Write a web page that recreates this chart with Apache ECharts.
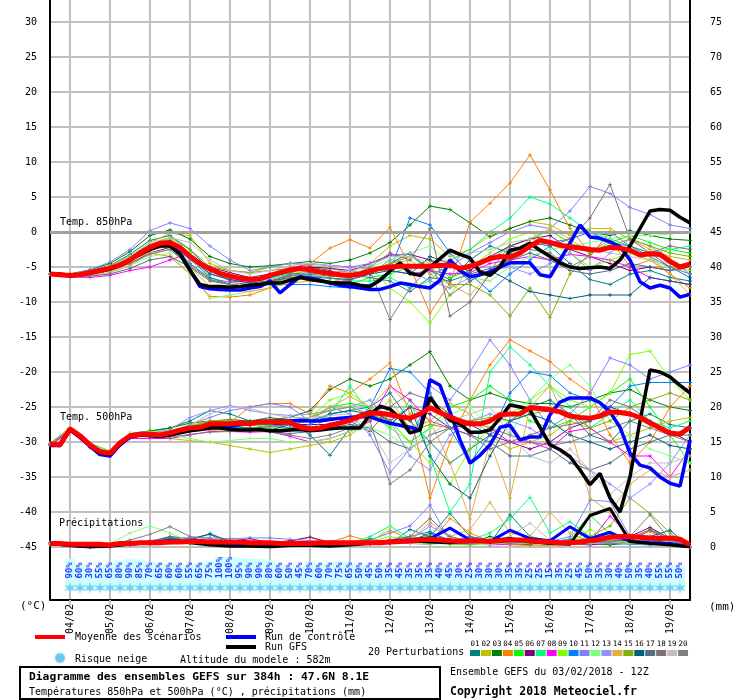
<!DOCTYPE html>
<html><head><meta charset="utf-8">
<script src="https://cdn.jsdelivr.net/npm/echarts@6.0.0/dist/echarts.min.js"></script>
<style>html,body{margin:0;padding:0;background:#fff}#chart{width:740px;height:700px}</style>
</head><body><div id="chart"></div>
<script>
// ---------------- DATA ----------------
const days = ['03/02','04/02','05/02','06/02','07/02','08/02','09/02','10/02','11/02','12/02','13/02','14/02','15/02','16/02','17/02','18/02','19/02'];
const runStartHour = 12, stepHours = 6, nSteps = 65;
const categories = Array.from({length: nSteps}, (_, i) => {
  const h = runStartHour + stepHours * i;
  return days[Math.floor(h / 24)] + ' ' + String(h % 24).padStart(2, '0') + 'Z';
});

const memberNames = ['01','02','03','04','05','06','07','08','09','10','11','12','13','14','15','16','17','18','19','20'];
const memberColors = ['#008080','#c0c000','#008000','#ff8000','#00ff00','#800080','#00ff80','#ff00ff','#80ff00','#0080ff',
                      '#8080ff','#80ff80','#9090ff','#e0b040','#80b000','#006080','#507080','#807070','#c0c0c0','#808080'];

const mean850 = [-6.0,-6.1,-6.2,-6.1,-5.8,-5.5,-5.2,-4.7,-4.0,-3.0,-2.2,-1.6,-1.5,-2.2,-3.5,-4.5,-5.3,-5.9,-6.3,-6.6,
  -6.8,-6.7,-6.2,-5.8,-5.4,-5.2,-5.4,-5.7,-5.9,-6.1,-6.2,-6.0,-5.6,-5.2,-5.0,-4.9,-4.9,-4.9,-4.9,-4.8,
  -4.7,-5.2,-4.9,-4.4,-3.8,-3.5,-3.6,-3.0,-2.0,-1.2,-1.5,-1.9,-2.1,-2.3,-2.5,-2.6,-2.2,-2.3,-2.6,-3.3,
  -3.1,-3.2,-4.2,-5.0,-4.6];
const ctrl850 = [-6.0,-6.1,-6.3,-6.1,-5.9,-5.6,-5.3,-4.8,-4.0,-3.0,-2.3,-1.8,-1.9,-3.0,-5.4,-7.8,-8.1,-8.2,-8.3,-8.3,
  -8.0,-7.8,-7.0,-8.7,-7.5,-6.4,-6.6,-6.9,-7.3,-7.6,-7.8,-8.0,-8.2,-8.2,-7.8,-7.3,-7.5,-7.8,-8.0,-6.9,
  -4.0,-5.5,-6.4,-6.1,-5.7,-5.0,-4.4,-4.4,-4.4,-6.1,-6.4,-4.0,-1.6,1.0,-0.7,-0.9,-1.4,-2.1,-4.0,-7.1,
  -8.0,-7.6,-8.0,-9.3,-8.9];
const gfs850 = [-6.0,-6.0,-6.2,-6.1,-5.8,-5.5,-5.2,-4.7,-4.0,-3.2,-2.5,-2.0,-2.0,-3.2,-5.5,-7.5,-7.8,-7.8,-7.9,-7.8,
  -7.6,-7.5,-7.3,-7.3,-6.9,-6.5,-6.8,-7.0,-7.2,-7.3,-7.3,-7.6,-7.8,-6.9,-5.6,-4.4,-5.9,-6.2,-5.0,-3.8,
  -2.6,-3.2,-3.7,-5.7,-6.2,-5.0,-2.6,-2.3,-1.6,-2.6,-3.5,-4.4,-5.0,-5.2,-5.1,-5.0,-5.2,-4.0,-2.0,0.5,
  3.0,3.2,3.1,2.1,1.3];

const mean500 = [-30.3,-30.4,-28.1,-29.1,-30.4,-31.4,-31.6,-30.1,-29.1,-28.9,-28.9,-29.0,-28.7,-28.3,-28.0,-27.9,-27.4,-27.4,-27.4,-27.3,
  -27.4,-27.1,-27.1,-27.1,-27.2,-27.9,-28.1,-28.0,-27.6,-27.3,-26.9,-26.3,-25.9,-25.9,-26.1,-26.4,-26.6,-26.0,-25.1,-25.8,
  -26.4,-27.0,-27.4,-27.4,-27.0,-26.1,-26.0,-26.0,-25.1,-25.2,-25.4,-25.7,-26.3,-26.5,-26.6,-26.3,-25.7,-25.8,-26.0,-26.5,
  -27.3,-28.0,-28.7,-28.9,-27.9];
const ctrl500 = [-30.5,-30.5,-28.2,-29.3,-30.6,-31.8,-32.0,-30.4,-29.3,-29.0,-29.0,-29.1,-28.9,-28.6,-28.2,-28.1,-27.8,-27.6,-27.8,-27.5,
  -27.3,-27.2,-27.1,-27.0,-27.0,-26.9,-27.0,-27.0,-26.8,-26.6,-26.5,-26.4,-26.4,-26.9,-27.3,-27.6,-27.9,-28.3,-21.1,-21.9,
  -25.7,-29.7,-33.0,-31.9,-30.4,-27.9,-27.6,-29.7,-29.3,-29.3,-26.1,-24.3,-23.7,-23.7,-23.7,-24.4,-25.7,-27.9,-31.6,-33.3,
  -33.7,-35.0,-35.9,-36.3,-29.7];
const gfs500 = [-30.4,-30.5,-28.3,-29.2,-30.5,-31.6,-31.8,-30.3,-29.2,-29.0,-29.1,-29.2,-29.0,-28.7,-28.4,-28.2,-28.0,-28.0,-28.2,-28.3,
  -28.3,-28.2,-28.4,-28.4,-28.3,-28.2,-28.4,-28.3,-28.1,-28.0,-28.0,-28.0,-26.1,-24.9,-25.3,-26.6,-28.7,-28.3,-23.6,-25.6,
  -26.9,-27.4,-28.6,-28.6,-28.3,-26.6,-24.7,-25.0,-25.4,-27.9,-30.4,-31.1,-32.1,-34.0,-36.1,-34.5,-38.0,-40.0,-35.0,-27.0,
  -19.7,-20.0,-20.7,-21.9,-23.0];

const meanPrecip = [0.5,0.5,0.4,0.4,0.4,0.4,0.3,0.5,0.5,0.6,0.6,0.6,0.7,0.7,0.8,0.8,0.7,0.7,0.7,0.7,
  0.6,0.6,0.6,0.5,0.5,0.5,0.5,0.6,0.6,0.6,0.6,0.6,0.6,0.6,0.7,0.8,0.9,1.0,1.1,1.0,
  0.9,0.8,0.9,0.9,0.8,0.9,1.0,1.0,0.9,0.8,0.7,0.6,0.6,0.7,0.9,1.1,1.4,1.5,1.5,1.4,
  1.3,1.2,1.3,1.1,0.3];
// 12-hourly values (33 points)
const ctrlPrecip = [0.5,0.2,0,0.2,0.5,0.6,0.9,0.7,0.5,0.3,0.3, 0.2,0.3,0.3,0.2,0.4,0.6,0.8,1,1.2,2.7,1, 0.8,2.4,1.2,0.9,2.9,1.2,2.1,0.8,0.6,0.5,0];
const gfsPrecip = [0.5,0.2,0,0.1,0.4,0.6,0.8,0.6,0.3,0.1,0.1, 0,0.2,0.2,0.1,0.3,0.5,0.8,0.9,0.7,0.6,0.8, 0.9,1.2,0.8,0.5,0.4,4.5,5.5,0.8,0.5,0.3,0];

// 20 perturbations, 12-hourly (33 points)
const pert850 = [
 [-6,-6.1,-5.6,-4.8,-3.2,-1.2,-0.5,-2.5,-5.5,-6.5,-7, -6.5,-5.8,-5,-5.5,-6.8,-6,-4.5,-3,-5.5,-6.8,-4, -2,-3,-1.5,-2,-4.5,-6.8,-7.5,-6,-5.5,-6.5,-7],
 [-6,-6.2,-5.9,-5.2,-3.8,-1.5,-0.2,-0.5,-4.5,-5.5,-5.8, -5,-4.5,-4.8,-5.2,-5.8,-4.5,-2,-0.5,-1,-3.5,-2.5, -0.5,0.5,1.5,1,-0.5,0.5,0.5,-1,-2.5,-3.5,-4],
 [-6,-6,-5.4,-4.5,-2.8,-0.5,0.3,-1,-3.5,-4.5,-5, -4.8,-4.5,-4.2,-4.5,-4,-3,-1.5,1,3.7,3.2,1.3, -0.7,0.5,1.5,2,1,0,-0.5,0.2,-0.5,-1,-1.2],
 [-6,-6.3,-6,-5.5,-4,-3,-3.5,-6,-9.2,-9.3,-9, -8,-6,-4.5,-2.3,-1.1,-2.3,0.7,-5,-11.6,-7.3,1.4, 4.1,7,11,6,0.5,-3,-1,-5,-4,-6,-8],
 [-6,-6.1,-5.8,-5.2,-4.2,-2.5,-2,-4.5,-6.8,-7.5,-7.8, -7.2,-6.5,-6.5,-7,-7.5,-6.5,-6,-5,-4,-6.5,-5.5, -4,-2,-1,0.2,-1.5,-3,-1.5,-0.5,-1.5,-2.5,-3],
 [-6,-6.2,-6,-5.4,-4.5,-3,-2.2,-3.5,-5,-5.8,-6.5, -6,-5.2,-5,-5.2,-5.5,-4.5,-3.3,-3.2,-4,-5,-5.5, -3.5,-2,-1,-0.5,-2.5,-3.5,-4.5,-5.5,-5,-5.5,-5],
 [-6,-6,-5.7,-5.1,-3.8,-2,-1.5,-4,-6,-6.8,-7, -6.6,-6,-6.2,-6.5,-7,-7,-6.5,-8,-7,-4,-2.5, 0,2,5,4,2,0,-1,-2,-3,-2.5,-2],
 [-6,-6.4,-6.5,-6.2,-5.5,-5,-4,-3,-5.5,-7,-7.2, -6.5,-5.2,-4.5,-4.8,-5,-5.2,-5.5,-6,-5.5,-6,-5.8, -4.5,-4,-3.5,-4,-3.2,-3.5,-4,-5,-6.5,-7,-7.5],
 [-6,-6.1,-5.7,-5,-3.6,-1.8,-1,-3,-6.5,-7.5,-7.8, -7,-6,-5.5,-6,-6.5,-5,-8,-10,-13,-9,-5, -3,-1,0,-1.5,-3,-5,-4,-3,-4,-5,-5.5],
 [-6,-6.2,-5.9,-5.3,-4,-2,-1.2,-3.8,-6.5,-7.5,-7.8, -7.5,-7.5,-7.5,-7.8,-8,-7.5,-5.5,2,1,-3,-6, -8.5,-6,-4,-2,-1,0,-1.5,-2,-3.5,-5,-6.5],
 [-6,-6,-5.4,-4.3,-2.5,0.2,1.3,0.5,-2,-4,-5.5, -5,-4.5,-4.6,-4.8,-5,-4.5,-3.5,-3,-6,-5,-3, -1.5,0,1,0.5,3,6.5,5.5,3.5,2.5,1,0.5],
 [-6,-6.2,-6,-5.6,-4.8,-3.5,-3,-6,-9.5,-9,-8.5, -8,-7,-6.5,-6.5,-6,-5,-4,-3,-2,-4.5,-6.5, -7,-5,-3.5,-2.5,-2,-1.5,-1,-0.5,-0.5,-0.3,0],
 [-6,-6.1,-5.8,-5.2,-4,-2.4,-1.8,-4,-6,-6.5,-7, -6.8,-6.2,-6,-5.8,-5.5,-6,-4,-5.5,-7,-8,-6.5, -5.5,-5,-6,-4.5,-3,-5.5,-3,-1,-2,-4,-6],
 [-6,-6.3,-6.2,-5.8,-4.8,-3,-2.5,-5,-7.8,-8.3,-8.5, -8,-7.3,-7,-7.2,-6.5,-5.5,-4.5,-4,-6,-7.5,-9, -6,-4,-1,0.5,-1,-3,-2,-2.5,-3.5,-6,-9],
 [-6,-6,-5.6,-4.8,-3.5,-1.8,-0.8,-2.5,-5,-5.5,-5.8, -5.5,-5.2,-5.4,-5.8,-6,-5.5,-4.5,-3.5,-5,-7.5,-7.5, -9,-12,-8,-12.2,-6,-3,-2,-1,-2,-3,-3.5],
 [-6,-6.1,-5.8,-5.1,-3.8,-2,-1.4,-3.5,-6,-6.8,-7.3, -7,-6.5,-6.4,-6.6,-6.8,-6,-5.5,-6,-3.5,-4.5,-7, -5.5,-7,-8.5,-9,-9.5,-9,-9,-9,-6.5,-7,-7.5],
 [-6,-6.3,-6.3,-6,-5.2,-4,-3.5,-5,-7,-7.5,-7.8, -7.2,-6,-5.8,-6,-6.2,-6.5,-7,-8.5,-6.5,-7,-6, -5.2,-4,-3,-4,-5.5,-6,-5.5,-4.5,-5,-5.5,-5],
 [-6,-6.2,-5.9,-5.3,-4.2,-2.5,-1.8,-4.5,-6.6,-7.2,-7.5, -7,-6.3,-6,-6.3,-6.5,-5,-3,-4,0.5,-12,-10, -6,-3,-2,-1.5,-1,2,6.8,-1,-3,-2,-2.5],
 [-6,-6.1,-5.7,-4.9,-3.4,-1.5,-0.8,-1.5,-4,-5.5,-6, -5.5,-4.8,-4.5,-4.8,-5.2,-4.8,-3.5,-3.5,-4.5,-4,-3, -2.5,-1.5,-1,-1.5,-2,-2.5,-3,-3.5,-4,-4.5,-5],
 [-6,-6.2,-6,-5.5,-4.5,-3.2,-2.5,-4.8,-6.8,-7.5,-7.8, -7.3,-6.5,-6.3,-6.6,-7,-5.5,-12.5,-8,-5,-9,-7, -5.5,-2,-2.5,-3,-5,-3.5,0,-2,-3,-5,-6]
];
const pert500 = [
 [-30.4,-28.3,-30.8,-32,-29,-28.5,-28,-27,-25.5,-26,-27, -26.5,-27,-29,-31.9,-28,-25,-23,-27,-30,-33,-31, -29,-27,-25,-24,-26,-29,-30,-27,-26,-27.5,-28],
 [-30.2,-28,-30.3,-31.4,-29,-29,-29.5,-29.8,-30,-30.5,-31, -31.5,-31,-30.5,-30,-29,-27,-24,-28,-27,-24.5,-26, -29,-31,-30,-29,-27,-28,-30,-29,-28,-27,-26.5],
 [-30.3,-28.1,-30.2,-31.3,-28.8,-28.4,-28,-27.3,-27,-26.8,-27, -26.8,-26.5,-25.5,-22.5,-21,-22,-21,-19,-17.1,-22,-24, -23,-24,-24.5,-24.5,-25,-24,-23,-22.5,-24,-25,-25.5],
 [-30.2,-28,-30.6,-31.5,-29.3,-29,-28.5,-27.8,-27,-27.2,-25, -24.5,-24.5,-26,-22,-23,-21,-18.7,-26,-38,-30,-24, -19,-15.4,-17,-18.5,-21,-23,-29,-33,-30,-25,-22],
 [-30.3,-28.2,-30.5,-31.7,-29.2,-29,-28.9,-28.2,-27.6,-27.8,-28, -27.6,-27.2,-26.5,-25,-24.5,-25,-27,-30,-28,-25,-24, -22,-24,-27,-28,-27,-25,-23,-21,-25,-29,-33],
 [-30.4,-28.2,-30.4,-31.6,-29,-29,-28.7,-28.3,-27.5,-27.3,-27.6, -27.5,-27.5,-27.5,-27.5,-26.5,-25.5,-27,-25,-26,-28,-27.5, -29,-30,-31,-30,-28,-27,-25,-26,-27,-28.5,-30],
 [-30.3,-28.1,-30.4,-31.5,-29,-28.9,-28.6,-27.8,-27.4,-27.6,-28, -28,-28,-28.5,-26,-22,-26,-28,-24,-32,-40,-36, -20,-16.4,-19,-22,-25,-28,-26,-24,-27,-28,-27],
 [-30.5,-28.5,-30.8,-31.9,-29.5,-29.5,-29.5,-29,-28.5,-28.5,-28.6, -28.5,-29.2,-30,-29.5,-28.5,-27,-22,-24,-27,-28,-29, -28,-30,-30,-31,-28.5,-28,-30,-32,-32,-35,-31],
 [-30.2,-28,-30.2,-31.3,-28.8,-28.5,-28.4,-27.6,-27,-27,-27.5, -27.8,-28,-26.5,-24,-23,-25,-28,-30,-33,-36,-31, -28,-26,-24,-22,-24,-25,-23,-17.5,-17,-21,-24],
 [-30.3,-28.1,-30.4,-31.5,-29,-28.9,-28.7,-28,-27.3,-27.3,-27.2, -27.5,-28,-27.5,-26,-25.5,-25,-19.5,-20,-23,-28,-33, -29,-23,-20,-20.5,-23,-24,-25,-22,-21.5,-21.5,-21.5],
 [-30.3,-28.2,-30.5,-31.6,-29.1,-29,-28.6,-27.5,-26.5,-25.5,-25, -24.5,-25,-27,-25,-26,-29,-34.4,-31,-22,-24,-20, -15.4,-19,-24,-28,-26,-23,-18,-19,-21,-20,-19],
 [-30.3,-28,-30.3,-31.4,-28.8,-28.8,-28.9,-29.5,-30,-29.8,-29.5, -29.5,-30,-30,-29.5,-28.5,-28,-29,-31,-28,-26,-25, -28,-29,-24,-21,-19,-22,-27,-29,-31,-32,-33],
 [-30.3,-28.1,-30.5,-31.7,-29.2,-28.8,-28.2,-26.5,-25.5,-24.8,-25.5, -26,-26.2,-26,-25.5,-25,-24,-27,-32,-34,-29,-27, -26,-27,-28,-30,-32,-34,-36,-38,-36,-33,-29],
 [-30.4,-28.3,-30.6,-31.6,-29.2,-29,-28.8,-28.5,-28.3,-28.5,-28.2, -27.9,-27.5,-26.5,-25,-23.5,-25,-22,-25,-27,-33,-41, -30,-38,-25,-22,-28,-38,-40,-36,-34,-35,-34],
 [-30.2,-28,-30.3,-31.5,-29,-28.8,-28.5,-27.8,-27,-27,-27.2, -26.8,-27,-26.5,-25.5,-25,-26,-27,-28.5,-27.5,-28,-27, -26.5,-27,-26,-25.5,-26,-28,-27,-25,-24,-23,-24],
 [-30.4,-28.4,-30.7,-31.9,-29.3,-29,-28.6,-28,-27.6,-27.8,-28, -28.3,-27.5,-27,-26,-25.5,-26,-27.5,-25,-32,-36,-38, -32,-27,-26,-27,-29,-30,-31,-30,-29,-30.5,-31],
 [-30.3,-28.2,-30.6,-31.7,-29.2,-29.1,-29,-28.5,-28,-28.2,-28.3, -28.5,-28.8,-28.5,-28,-27.5,-28,-30,-31,-29,-28,-29, -30,-32,-32,-31,-33,-34,-33,-31,-30,-29,-29],
 [-30.3,-28.1,-30.4,-31.6,-29.1,-28.8,-28.6,-28,-27.7,-28,-28, -27.8,-27.5,-27,-26.5,-27,-28.5,-25,-23,-24,-26,-29, -31,-30,-29,-28,-27.5,-27,-24,-25,-27,-29,-28],
 [-30.3,-28,-30.3,-31.5,-29,-28.8,-28.5,-27.6,-26,-25,-25.2, -26,-26.5,-26.5,-26.2,-26,-28,-33,-31,-29,-27,-26, -25,-29,-32,-33,-31,-34,-37.5,-35,-33,-33,-32],
 [-30.4,-28.3,-30.6,-31.8,-29.3,-29.2,-29.3,-28.9,-28.6,-28.5,-28.3, -28.6,-29,-29.5,-29,-28,-27,-36,-34,-30,-28,-27, -28,-29,-30,-30.5,-30,-29,-28,-27,-28,-29,-30]
];
const pertPrecip = [
 [0.6,0.2,0,0.1,0.5,0.8,1.5,1.2,1.8,0.5,0.3, 0.2,0.4,0.5,0.3,0.6,1,0.5,2.5,1.5,4.8,1.5, 0.5,4.6,1.5,0.8,0.5,1,0.4,0.8,2.4,1,0],
 [0.5,0.3,0,0.2,0.4,0.6,0.8,0.5,0.3,0.2,0.2, 0.1,0.3,0.2,0.1,0.3,0.5,0.8,1.5,0.8,0.5,1.2, 0.8,0.3,0.2,0.6,0.4,0.3,1.5,0.8,0.5,0.4,0],
 [0.5,0.2,0.1,0.3,0.6,0.7,1,0.8,0.5,0.3,0.3, 0.2,0.2,0.3,0.2,0.4,1.2,0.6,0.8,2,1,0.6, 1.5,0.8,0.4,1,0.7,0.5,0.3,0.6,0.8,0.5,0],
 [0.4,0.2,0,0.1,0.5,0.6,1.2,1,0.6,0.4,0.3, 0.5,0.8,1.4,0.7,1.6,0.8,2.4,1,0.5,4.1,2, 0.8,0.5,0.3,0.2,0.5,0.4,0.8,1.5,2.2,0.7,0],
 [0.5,0.3,0.1,0.2,0.4,0.5,0.8,0.6,0.4,0.2,0.2, 0.3,0.2,0.3,0.4,0.5,0.6,1,0.8,0.6,0.4,0.3, 0.5,1,0.8,0.6,1.2,4.6,1.8,0.9,0.6,0.4,0],
 [0.5,0.2,0,0.1,0.3,0.5,0.8,0.6,0.5,0.8,1.2, 0.6,0.9,1.4,0.6,0.4,0.5,0.7,0.8,1.2,0.6,0.4, 0.7,0.5,0.4,0.8,0.5,0.3,0.6,1.5,2.8,1.2,0],
 [0.6,0.3,0.1,0.3,0.6,0.8,1,0.7,0.5,0.3,0.2, 0.2,0.3,0.4,0.3,0.5,1.5,3,1.2,0.8,0.5,1, 2,4,7.1,2,3.6,1.5,0.8,0.5,0.6,0.4,0],
 [0.5,0.2,0,0.1,0.3,0.4,0.6,0.8,0.5,0.3,0.2, 0.2,0.4,0.3,0.2,0.3,0.4,0.6,0.5,0.4,0.8,0.5, 0.3,0.4,0.6,0.5,0.4,0.8,4.4,1.5,0.8,0.5,0],
 [0.5,0.3,0.1,0.2,0.5,0.6,0.7,0.5,0.3,0.2,0.2, 0.3,0.5,0.4,0.3,0.6,0.8,1.5,0.7,0.5,1,0.6, 0.4,0.8,1.5,0.7,0.5,2.5,1,0.6,1.2,0.8,0],
 [0.5,0.2,0,0.2,0.6,0.8,1,1.2,0.9,0.6,0.4, 0.3,0.5,0.6,0.4,0.5,0.7,1,1.5,2.2,0.8,0.5, 0.6,0.9,0.6,0.4,0.8,0.6,0.5,0.4,0.3,0.4,0],
 [0.6,0.3,0.1,0.3,0.6,0.9,1.3,1.3,1.3,1.2,1.3, 1.3,1.1,0.9,0.7,0.6,1,2,3,6,0.8,1.2, 0.9,0.6,0.5,0.8,1.5,6.7,6.5,1.5,0.8,1.2,0],
 [0.5,0.3,0.2,0.5,2,3,2,0.8,0.5,0.3,0.2, 0.2,0.3,0.2,0.2,0.3,0.5,3,0.6,0.4,0.5,0.3, 0.4,0.6,0.5,0.3,0.4,0.5,0.8,0.6,0.5,0.3,0],
 [0.5,0.2,0.1,0.2,0.4,0.6,0.7,0.6,0.4,0.3,0.3, 0.2,0.3,0.2,0.3,0.4,0.5,0.6,1,3,1.5,0.6, 0.5,1,0.8,0.5,0.6,0.4,1.2,0.8,0.5,0.7,0],
 [0.4,0.2,0,0.1,0.4,0.6,0.9,0.7,0.5,0.4,0.3, 0.3,0.4,0.3,0.3,0.5,0.6,0.7,1,3.5,1.5,2.5, 6.4,2,1.5,5,2,0.8,0.6,0.5,0.4,0.6,0],
 [0.5,0.2,0.1,0.2,0.5,0.6,0.8,0.6,0.4,0.3,0.2, 0.2,0.3,0.3,0.2,0.4,0.6,0.5,0.7,0.6,0.5,0.4, 0.6,0.8,0.5,0.6,0.7,1.5,3,7,4.8,2,0],
 [0.6,0.2,0.1,0.2,0.5,0.8,1.2,1,1.9,0.8,0.4, 0.3,0.5,0.6,0.4,0.5,0.7,0.9,1.2,1.5,1,0.8, 0.7,1,0.8,0.7,0.6,0.5,0.8,1,1.5,2.4,0],
 [0.5,0.2,0,0.1,0.4,0.6,1.3,0.9,0.6,0.4,0.3, 0.3,0.4,0.3,0.3,0.4,0.6,0.8,1,1.2,0.8,1.5, 1,0.8,0.6,0.8,1,0.7,0.5,0.8,1,0.6,0],
 [0.5,0.3,0.1,0.2,0.5,0.7,1.5,0.8,0.6,0.4,0.3, 0.2,0.3,0.4,0.3,0.4,0.7,1,1.5,4.1,1.5,0.8, 0.6,0.8,1,0.7,0.6,0.5,0.8,1.2,2.5,1.3,0],
 [0.5,0.2,0.1,0.2,0.4,0.6,0.8,0.7,0.5,0.4,0.3, 0.3,0.4,0.3,0.3,0.5,0.6,0.7,0.9,0.7,0.6,0.8, 1,1.5,3.4,1,0.7,0.5,0.6,0.8,0.6,0.5,0],
 [0.6,0.3,0.1,0.3,1,1.8,2.9,1.5,1.2,0.6,0.5, 0.4,0.6,0.5,0.4,0.5,0.7,1,1.2,0.9,0.7,0.8, 1,0.9,0.7,0.8,1,0.8,0.7,1.5,4.6,1,0]
];

// snow risk (%) every 6h, from 04/02 00Z (step index 2) to 19/02 06Z (step index 63)
const snowFirstIndex = 2;
const snowPct = [90,60,30,55,65,80,90,85,70,65,60,60,55,65,75,100,100,95,90,90,80,60,50,45,70,60,70,75,65,50,45,50,
                 35,45,35,35,35,40,45,30,25,30,30,30,35,35,25,25,15,35,25,45,50,35,30,40,50,35,40,55,55,50];

// ---------------- LAYOUT / STYLE ----------------
const MONO = '"DejaVu Sans Mono", "Liberation Mono", monospace';
const GRID_COLOR = '#c0c0c0';
const PLUS = 'path://M2,0H3V2H5V3H3V5H2V3H0V2H2Z';
const FLAKE = 'path://M5,0L6,3.3L9.3,2.5L7,5L9.3,7.5L6,6.7L5,10L4,6.7L0.7,7.5L3,5L0.7,2.5L4,3.3Z';
const SNOW_AXIS_MAX = 312, SNOW_GAP = 59, SNOW_FLOOR = 94, FLAKE_LEVEL = 71;

const isDay = (idx, val) => String(val).endsWith(' 00Z');
function at12h(arr) {
  const out = new Array(categories.length).fill(null);
  arr.forEach((v, j) => { out[j * 2] = v; });
  return out;
}
const snowSlots = categories.map((c, i) => {
  const k = i - snowFirstIndex;
  return (k >= 0 && k < snowPct.length) ? snowPct[k] : null;
});

function xAxisBase(gridIndex, extra) {
  return Object.assign({
    type: 'category', gridIndex, data: categories, boundaryGap: false,
    axisLine: {show: false}, axisTick: {show: false}, axisLabel: {show: false},
    splitLine: {show: true, interval: isDay, lineStyle: {color: GRID_COLOR, width: 2}}
  }, extra || {});
}
function borderAxis(gridIndex, position) {
  return {type: 'value', gridIndex, position, min: 0, max: 1,
    axisLine: {show: true, lineStyle: {color: '#000', width: 2}},
    axisTick: {show: false}, axisLabel: {show: false}, splitLine: {show: false}};
}

const series = [];
// zero line emphasis
series.push({type: 'line', xAxisIndex: 1, yAxisIndex: 2, data: [], silent: true, z: 1,
  markLine: {silent: true, symbol: 'none', label: {show: false}, animation: false,
    lineStyle: {color: '#a0a0a0', width: 3, type: 'solid'}, data: [{yAxis: 0}]}});

function memberSeries(arr, k, yAxisIndex) {
  const c = memberColors[k];
  return {type: 'line', name: memberNames[k], xAxisIndex: 1, yAxisIndex, data: at12h(arr),
    connectNulls: true, symbol: PLUS, symbolSize: 4, showSymbol: true, showAllSymbol: true,
    lineStyle: {width: 1, color: c}, itemStyle: {color: c}, z: 2, silent: true};
}
pertPrecip.forEach((a, k) => series.push(memberSeries(a, k, 3)));
pert500.forEach((a, k) => series.push(memberSeries(a, k, 2)));
pert850.forEach((a, k) => series.push(memberSeries(a, k, 2)));

function mainSeries(data, color, width, yAxisIndex, z) {
  return {type: 'line', xAxisIndex: 1, yAxisIndex, data, connectNulls: true, showSymbol: false,
    lineStyle: {width, color}, itemStyle: {color}, z, silent: true};
}
series.push(mainSeries(at12h(ctrlPrecip), '#0000ff', 3, 3, 5));
series.push(mainSeries(at12h(gfsPrecip), '#000000', 3, 3, 6));
series.push(mainSeries(meanPrecip, '#ff0000', 5, 3, 7));
series.push(mainSeries(ctrl500, '#0000ff', 3.5, 2, 8));
series.push(mainSeries(gfs500, '#000000', 3.5, 2, 9));
series.push(mainSeries(mean500, '#ff0000', 5, 2, 10));
series.push(mainSeries(ctrl850, '#0000ff', 3.5, 2, 8));
series.push(mainSeries(gfs850, '#000000', 3.5, 2, 9));
series.push(mainSeries(mean850, '#ff0000', 5, 2, 10));

// snow risk row
series.push({type: 'bar', xAxisIndex: 2, yAxisIndex: 4, stack: 'snow', barWidth: 10, silent: true,
  data: snowSlots.map(v => v == null ? '-' : SNOW_GAP), itemStyle: {color: 'rgba(0,0,0,0)'}});
series.push({type: 'bar', xAxisIndex: 2, yAxisIndex: 4, stack: 'snow', barWidth: 10, silent: true,
  data: snowSlots.map(v => v == null ? '-' : SNOW_FLOOR), itemStyle: {color: '#ccffff'}});
series.push({type: 'bar', xAxisIndex: 2, yAxisIndex: 4, stack: 'snow', barWidth: 10, silent: true,
  data: snowSlots.map(v => v == null ? '-' : v), itemStyle: {color: '#ccffff'}});
series.push({type: 'scatter', xAxisIndex: 2, yAxisIndex: 4, silent: true, z: 5,
  data: snowSlots.map(v => v == null ? '-' : FLAKE_LEVEL), symbol: FLAKE, symbolSize: 11,
  itemStyle: {color: '#5ec4ee', borderColor: '#a6e2f8', borderWidth: 0.5}});
series.push({type: 'scatter', xAxisIndex: 2, yAxisIndex: 4, silent: true, z: 6,
  data: snowSlots.map(v => v == null ? '-' : (SNOW_GAP + SNOW_FLOOR)), symbolSize: 1,
  itemStyle: {color: 'rgba(0,0,0,0)'},
  label: {show: true, position: [0, 5], rotate: 90, align: 'left', verticalAlign: 'middle',
    formatter: p => snowSlots[p.dataIndex] + '%',
    color: '#0000ff', fontFamily: MONO, fontSize: 9, fontWeight: 'bold'}});

// ---------------- GRAPHIC (legend & texts) ----------------
function txt(x, y, text, font, extra) {
  return {type: 'text', x, y, silent: true, z: 100,
    style: Object.assign({text, font: font || ('10px ' + MONO), fill: '#000',
      verticalAlign: 'middle', textVerticalAlign: 'middle', align: 'left', textAlign: 'left'}, extra || {})};
}
function rect(x, y, w, h, fill) {
  return {type: 'rect', silent: true, z: 100, shape: {x, y, width: w, height: h}, style: {fill}};
}
const graphics = [
  txt(60, 222, 'Temp. 850hPa'),
  txt(60, 417, 'Temp. 500hPa'),
  txt(59, 523, 'Précipitations'),
  txt(20, 606, '(°C)', '11px ' + MONO),
  txt(709, 607, '(mm)', '11px ' + MONO),
  rect(35, 635, 30, 4, '#ff0000'),
  txt(75, 637, 'Moyenne des scénarios'),
  rect(226, 635, 30, 4, '#0000ff'),
  txt(265, 637, 'Run de contrôle'),
  rect(226, 645, 30, 4, '#000000'),
  txt(265, 647, 'Run GFS'),
  {type: 'circle', silent: true, z: 100, shape: {cx: 60, cy: 658, r: 5}, style: {fill: '#66ccee', stroke: '#a6e2f8', lineWidth: 1}},
  txt(75, 659, 'Risque neige'),
  txt(180, 660, 'Altitude du modele : 582m'),
  txt(368, 652, '20 Perturbations'),
  {type: 'rect', silent: true, z: 100, shape: {x: 20, y: 667, width: 420, height: 32}, style: {fill: '#fff', stroke: '#000', lineWidth: 2}},
  txt(29, 677, 'Diagramme des ensembles GEFS sur 384h : 47.6N 8.1E', 'bold 11.3px ' + MONO),
  txt(29, 692, 'Températures 850hPa et 500hPa (°C) , précipitations (mm)'),
  txt(450, 672, 'Ensemble GEFS du 03/02/2018 - 12Z'),
  txt(450, 692, 'Copyright 2018 Meteociel.fr', 'bold 11.5px ' + MONO)
];
memberNames.forEach((n, k) => {
  const x = 470 + k * 10.95;
  graphics.push(txt(x + 5, 644, n, '7.5px ' + MONO, {align: 'center', textAlign: 'center'}));
  graphics.push(rect(x, 650, 10, 6, memberColors[k]));
});

// ---------------- OPTION ----------------
const option = {
  animation: false,
  backgroundColor: '#ffffff',
  grid: [
    {left: 50, right: 50, top: 0, height: 22},
    {left: 50, right: 50, top: 22, height: 525},
    {left: 50, right: 50, top: 547, height: 53}
  ],
  xAxis: [
    xAxisBase(0),
    xAxisBase(1),
    xAxisBase(2, {
      axisLine: {show: true, lineStyle: {color: '#000', width: 2}},
      axisTick: {show: true, interval: isDay, length: 6, lineStyle: {color: GRID_COLOR, width: 2}},
      axisLabel: {show: true, interval: isDay, rotate: 90, margin: 4, color: '#000',
        fontFamily: MONO, fontSize: 10, formatter: v => v.split(' ')[0]}
    })
  ],
  yAxis: [
    borderAxis(0, 'left'),
    borderAxis(0, 'right'),
    {type: 'value', gridIndex: 1, position: 'left', min: -45, max: 30, interval: 5,
      axisLine: {show: true, lineStyle: {color: '#000', width: 2}}, axisTick: {show: false},
      axisLabel: {color: '#000', fontFamily: MONO, fontSize: 10, margin: 13},
      splitLine: {show: true, lineStyle: {color: GRID_COLOR, width: 2}}},
    {type: 'value', gridIndex: 1, position: 'right', min: 0, max: 75, interval: 5,
      axisLine: {show: true, lineStyle: {color: '#000', width: 2}}, axisTick: {show: false},
      axisLabel: {color: '#000', fontFamily: MONO, fontSize: 10, margin: 20},
      splitLine: {show: false}},
    {type: 'value', gridIndex: 2, position: 'left', min: 0, max: SNOW_AXIS_MAX,
      axisLine: {show: true, lineStyle: {color: '#000', width: 2}}, axisTick: {show: false},
      axisLabel: {show: false}, splitLine: {show: false}},
    {type: 'value', gridIndex: 2, position: 'right', min: 0, max: SNOW_AXIS_MAX,
      axisLine: {show: true, lineStyle: {color: '#000', width: 2}}, axisTick: {show: false},
      axisLabel: {show: false}, splitLine: {show: false}}
  ],
  series,
  graphic: graphics
};

const chart = echarts.init(document.getElementById('chart'));
chart.setOption(option);
</script>
</body></html>
